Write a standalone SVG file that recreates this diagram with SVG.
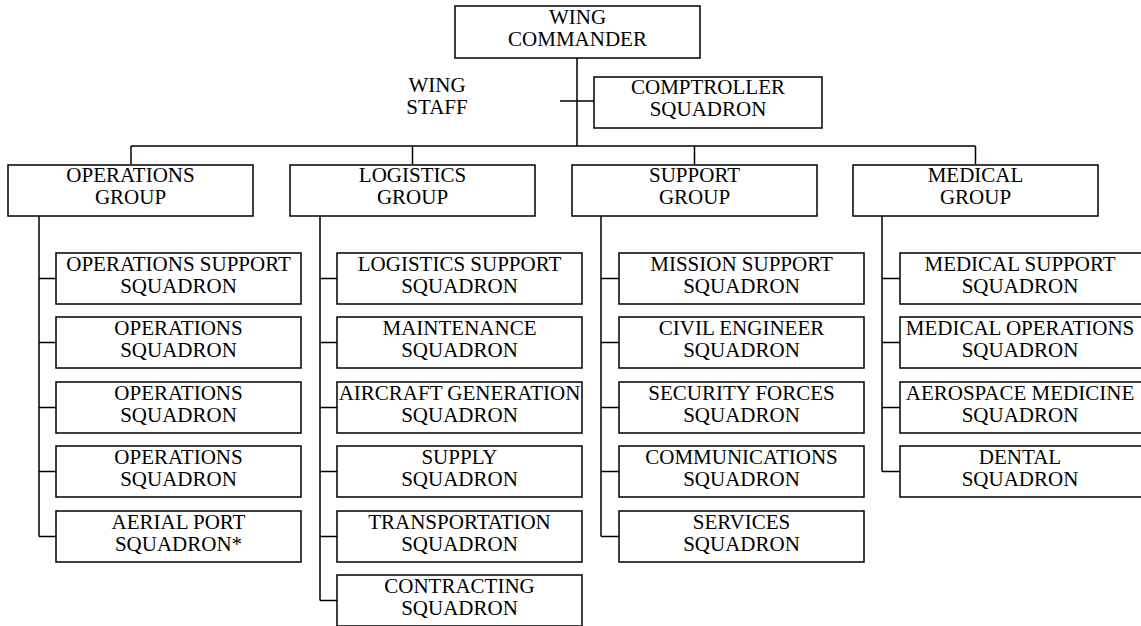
<svg xmlns="http://www.w3.org/2000/svg" width="1141" height="626" viewBox="0 0 1141 626" font-family="'Liberation Serif', Tinos, 'Times New Roman', 'DejaVu Serif', serif">
<style>
rect{fill:#fff;stroke:#000;stroke-width:1.5}
text{font-family:'Liberation Serif', Tinos, 'Times New Roman', 'DejaVu Serif', serif;font-size:21px;fill:#000;text-anchor:middle}
#connectors line,#connectors path{stroke:#000;stroke-width:1.5;fill:none}
</style>
<rect x="0" y="0" width="1141" height="626" style="stroke:none"/>
<g id="connectors">
<line x1="577" y1="58" x2="577" y2="146"/>
<line x1="560" y1="101" x2="594" y2="101"/>
<line x1="131" y1="146" x2="975.5" y2="146"/>
<line x1="131" y1="146" x2="131" y2="164"/>
<line x1="412.5" y1="146" x2="412.5" y2="164"/>
<line x1="694.5" y1="146" x2="694.5" y2="164"/>
<line x1="975.5" y1="146" x2="975.5" y2="164"/>
<path d="M39 216V536.5M39 278.5H56M39 342.5H56M39 407.5H56M39 471.5H56M39 536.5H56"/>
<path d="M320 216V600.5M320 278.5H337M320 342.5H337M320 407.5H337M320 471.5H337M320 536.5H337M320 600.5H337"/>
<path d="M601 216V536.5M601 278.5H619M601 342.5H619M601 407.5H619M601 471.5H619M601 536.5H619"/>
<path d="M882 216V471.5M882 278.5H900M882 342.5H900M882 407.5H900M882 471.5H900"/>
</g>
<g id="wing-commander"><rect x="455" y="6" width="245" height="52"/><text x="577.5" y="24">WING</text><text x="577.5" y="46">COMMANDER</text></g>
<g id="wing-staff"><text x="437" y="92">WING</text><text x="437" y="114">STAFF</text></g>
<g id="comptroller"><rect x="594" y="77" width="228" height="51"/><text x="708" y="94">COMPTROLLER</text><text x="708" y="116">SQUADRON</text></g>

<g id="operations-group"><rect x="8" y="165" width="245" height="51"/><text x="130.5" y="182">OPERATIONS</text><text x="130.5" y="204">GROUP</text></g>
<g id="logistics-group"><rect x="290" y="165" width="245" height="51"/><text x="412.5" y="182">LOGISTICS</text><text x="412.5" y="204">GROUP</text></g>
<g id="support-group"><rect x="572" y="165" width="245" height="51"/><text x="694.5" y="182">SUPPORT</text><text x="694.5" y="204">GROUP</text></g>
<g id="medical-group"><rect x="853" y="165" width="245" height="51"/><text x="975.5" y="182">MEDICAL</text><text x="975.5" y="204">GROUP</text></g>

<g id="ops-support-sq"><rect x="56" y="253" width="245" height="51"/><text x="178.5" y="271">OPERATIONS SUPPORT</text><text x="178.5" y="293">SQUADRON</text></g>
<g id="ops-sq-1"><rect x="56" y="317" width="245" height="51"/><text x="178.5" y="335">OPERATIONS</text><text x="178.5" y="357">SQUADRON</text></g>
<g id="ops-sq-2"><rect x="56" y="382" width="245" height="51"/><text x="178.5" y="400">OPERATIONS</text><text x="178.5" y="422">SQUADRON</text></g>
<g id="ops-sq-3"><rect x="56" y="446" width="245" height="51"/><text x="178.5" y="464">OPERATIONS</text><text x="178.5" y="486">SQUADRON</text></g>
<g id="aerial-port-sq"><rect x="56" y="511" width="245" height="51"/><text x="178.5" y="529">AERIAL PORT</text><text x="178.5" y="551">SQUADRON*</text></g>

<g id="log-support-sq"><rect x="337" y="253" width="245" height="51"/><text x="459.5" y="271">LOGISTICS SUPPORT</text><text x="459.5" y="293">SQUADRON</text></g>
<g id="maintenance-sq"><rect x="337" y="317" width="245" height="51"/><text x="459.5" y="335">MAINTENANCE</text><text x="459.5" y="357">SQUADRON</text></g>
<g id="aircraft-gen-sq"><rect x="337" y="382" width="245" height="51"/><text x="459.5" y="400">AIRCRAFT GENERATION</text><text x="459.5" y="422">SQUADRON</text></g>
<g id="supply-sq"><rect x="337" y="446" width="245" height="51"/><text x="459.5" y="464">SUPPLY</text><text x="459.5" y="486">SQUADRON</text></g>
<g id="transportation-sq"><rect x="337" y="511" width="245" height="51"/><text x="459.5" y="529">TRANSPORTATION</text><text x="459.5" y="551">SQUADRON</text></g>
<g id="contracting-sq"><rect x="337" y="575" width="245" height="51"/><text x="459.5" y="593">CONTRACTING</text><text x="459.5" y="615">SQUADRON</text></g>

<g id="mission-support-sq"><rect x="619" y="253" width="245" height="51"/><text x="741.5" y="271">MISSION SUPPORT</text><text x="741.5" y="293">SQUADRON</text></g>
<g id="civil-engineer-sq"><rect x="619" y="317" width="245" height="51"/><text x="741.5" y="335">CIVIL ENGINEER</text><text x="741.5" y="357">SQUADRON</text></g>
<g id="security-forces-sq"><rect x="619" y="382" width="245" height="51"/><text x="741.5" y="400">SECURITY FORCES</text><text x="741.5" y="422">SQUADRON</text></g>
<g id="communications-sq"><rect x="619" y="446" width="245" height="51"/><text x="741.5" y="464">COMMUNICATIONS</text><text x="741.5" y="486">SQUADRON</text></g>
<g id="services-sq"><rect x="619" y="511" width="245" height="51"/><text x="741.5" y="529">SERVICES</text><text x="741.5" y="551">SQUADRON</text></g>

<g id="medical-support-sq"><rect x="900" y="253" width="245" height="51"/><text x="1020" y="271">MEDICAL SUPPORT</text><text x="1020" y="293">SQUADRON</text></g>
<g id="medical-ops-sq"><rect x="900" y="317" width="245" height="51"/><text x="1020" y="335">MEDICAL OPERATIONS</text><text x="1020" y="357">SQUADRON</text></g>
<g id="aerospace-med-sq"><rect x="900" y="382" width="245" height="51"/><text x="1020" y="400">AEROSPACE MEDICINE</text><text x="1020" y="422">SQUADRON</text></g>
<g id="dental-sq"><rect x="900" y="446" width="245" height="51"/><text x="1020" y="464">DENTAL</text><text x="1020" y="486">SQUADRON</text></g>
</svg>
